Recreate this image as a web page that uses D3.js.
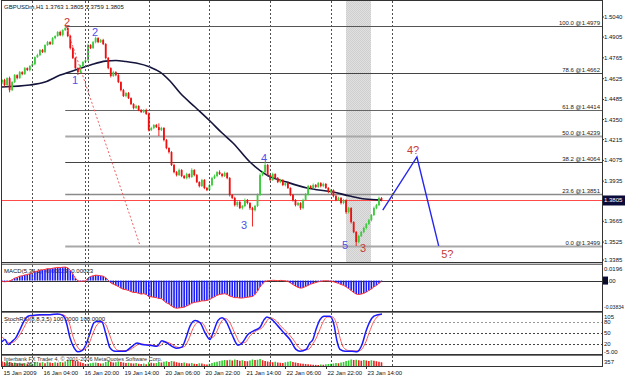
<!DOCTYPE html>
<html>
<head>
<meta charset="utf-8">
<script src="https://cdn.jsdelivr.net/npm/d3@7"></script>
<style>
  body { margin: 0; background: #fff; }
  svg { display: block; font-family: "Liberation Sans", Arial, sans-serif; }
</style>
</head>
<body>
<svg id="chart" width="625" height="377"></svg>
<script>
// ---- Data ----
const firstOpen = 1.4600;
// H1 closes, one per bar (bar 0 = 15 Jan 12:00)
const closes = [
  1.4616,1.4582,1.4629,1.4548,1.4602,1.4649,1.4629,1.4669,1.4656,1.4696,
  1.4683,1.4710,1.4723,1.4770,1.4784,1.4818,1.4804,1.4851,1.4871,1.4858,
  1.4898,1.4912,1.4939,1.4918,1.4952,1.4966,1.4912,1.4831,1.4764,1.4696,
  1.4669,1.4710,1.4737,1.4750,1.4851,1.4831,1.4871,1.4898,1.4871,1.4885,
  1.4858,1.4764,1.4696,1.4643,1.4669,1.4649,1.4602,1.4548,1.4508,1.4528,
  1.4494,1.4454,1.4427,1.4441,1.4414,1.4400,1.4414,1.4387,1.4279,1.4293,
  1.4313,1.4299,1.4279,1.4293,1.4212,1.4158,1.4131,1.4044,1.3996,1.3976,
  1.4010,1.3970,1.3956,1.3983,1.3963,1.4010,1.3976,1.3929,1.3902,1.3943,
  1.3889,1.3875,1.3909,1.3956,1.3970,1.3996,1.3983,1.3970,1.3990,1.3956,
  1.3842,1.3822,1.3774,1.3795,1.3754,1.3768,1.3808,1.3788,1.3754,1.3740,
  1.3768,1.3842,1.3976,1.3996,1.4044,1.3976,1.3943,1.3983,1.3956,1.3929,
  1.3943,1.3909,1.3922,1.3889,1.3842,1.3808,1.3774,1.3788,1.3754,1.3808,
  1.3848,1.3902,1.3889,1.3909,1.3896,1.3922,1.3902,1.3916,1.3889,1.3862,
  1.3875,1.3835,1.3808,1.3822,1.3788,1.3808,1.3727,1.3754,1.3660,1.3593,
  1.3525,1.3566,1.3593,1.3620,1.3647,1.3673,1.3707,1.3754,1.3774,1.3822,1.3805
];
// wick lengths in pips above the body / below the body
const wickHi = [
  6,8,5,10,6,7,5,8,6,7, 5,6,8,5,9,6,7,5,8,6, 7,5,6,9,5,13,6,8,7,6,
  5,8,6,7,9,6,8,10,6,7, 8,6,7,5,9,6,7,5,8,6, 7,5,6,8,5,7,6,9,10,8,
  6,7,25,8,6,7,5,6,8,7, 10,6,7,9,5,12,6,7,5,8, 6,7,9,8,10,6,12,7,9,6,
  7,6,8,5,9,6,10,7,6,8, 7,10,12,8,20,7,6,9,5,7, 8,6,7,9,5,7,6,8,6,9,
  7,8,6,10,7,8,6,9,7,6, 8,5,7,9,6,8,5,7,6,5, 6,8,7,9,6,8,7,10,8,9,6
];
const wickLo = [
  12,10,8,15,7,6,9,5,8,6, 7,9,6,8,5,7,6,8,5,7, 6,8,5,7,9,6,8,10,7,8,
  19,7,6,8,9,7,6,8,7,6, 7,9,8,10,6,8,7,9,6,8, 6,7,9,5,8,6,7,6,9,7,
  8,6,40,7,9,8,10,7,8,9, 6,8,7,9,10,6,8,7,9,6, 8,7,6,9,7,8,6,9,7,8,
  10,8,9,12,7,10,8,9,12,110, 9,7,6,8,7,9,8,6,10,7, 8,7,9,6,8,10,9,7,12,8,
  7,9,6,8,7,6,9,8,6,8, 7,9,8,6,10,8,12,9,10,8, 26,9,7,8,10,7,9,6,8,7,6
];
// moving average: [bar, price]
const maPts = [
  [0,1.4569],[11,1.4582],[17,1.4602],[23,1.4649],[29,1.4683],[35,1.4717],[41,1.4743],
  [45,1.4747],[49,1.4740],[53,1.4730],[58.5,1.4703],[62.5,1.4669],[66.4,1.4609],
  [70.4,1.4528],[76.3,1.4434],[82.2,1.4340],[87,1.4259],[91.3,1.4192],[98,1.4064],
  [104.7,1.3976],[112.6,1.3929],[120.6,1.3889],[130.8,1.3862],[137.5,1.3835],
  [143.5,1.3815],[149.8,1.3808]
];
// Fibonacci retracement
const fibLevels = ["100.0","78.6","61.8","50.0","38.2","23.6","0.0"];
const fibPrices = [1.4979,1.4662,1.4414,1.4239,1.4064,1.3851,1.3499];
const fibStartBar = 25;
const lastPrice = 1.3805;
// Elliott wave labels
const waveText  = ["2","2","1","3","4","5","3","4?","5?"];
const waveBar   = [25.7,36.8,28.9,95.7,103.6,135.6,142.7,162.5,176];
const wavePrice = [1.5006,1.4939,1.4616,1.3640,1.4091,1.3505,1.3485,1.4144,1.3445];
const waveDegree = ["major","minor","minor","minor","minor","minor","major","major","major"];
// dashed trend line and projected path
const diagBar = [25.3, 54.5], diagPrice = [1.4979, 1.3505];
const projBar = [150.5, 164, 172.6], projPrice = [1.3740, 1.4098, 1.3499];
// highlighted session
const bandBars = [136, 145.8];
// day separators and time labels
const separatorBars = [12, 33, 34, 58, 82, 106, 130, 154];
const timeBars   = [0, 16, 32, 48, 64, 80, 96, 112, 128, 144];
const timeLabels = ["15 Jan 2009","16 Jan 04:00","16 Jan 20:00","19 Jan 14:00","20 Jan 06:00",
                    "20 Jan 22:00","21 Jan 14:00","22 Jan 06:00","22 Jan 22:00","23 Jan 14:00"];
const priceTicks = [1.5040,1.4905,1.4765,1.4625,1.4485,1.4350,1.4215,1.4075,1.3935,1.3665,1.3525,1.3385];
// MACD(5,34,1) per bar
const macd = [
  -0.0010,-0.0015,-0.0012,-0.0008,0.0010,0.0030,0.0040,0.0055,0.0060,0.0070,
  0.0075,0.0085,0.0095,0.0110,0.0120,0.0130,0.0135,0.0140,0.0150,0.0148,
  0.0155,0.0160,0.0165,0.0163,0.0168,0.0170,0.0160,0.0130,0.0080,0.0030,
  -0.0005,-0.0010,-0.0008,-0.0005,0.0030,0.0050,0.0060,0.0068,0.0065,0.0060,
  0.0055,0.0035,0.0005,-0.0030,-0.0045,-0.0060,-0.0075,-0.0095,-0.0110,-0.0115,
  -0.0125,-0.0140,-0.0150,-0.0150,-0.0160,-0.0170,-0.0165,-0.0175,-0.0200,-0.0205,
  -0.0210,-0.0215,-0.0225,-0.0228,-0.0255,-0.0280,-0.0295,-0.0320,-0.0340,-0.0348,
  -0.0345,-0.0340,-0.0335,-0.0320,-0.0305,-0.0285,-0.0275,-0.0270,-0.0265,-0.0255,
  -0.0255,-0.0250,-0.0240,-0.0220,-0.0205,-0.0185,-0.0175,-0.0170,-0.0165,-0.0175,
  -0.0195,-0.0205,-0.0215,-0.0215,-0.0220,-0.0220,-0.0215,-0.0210,-0.0205,-0.0200,
  -0.0175,-0.0130,-0.0080,-0.0040,-0.0010,-0.0005,0.0000,0.0003,0.0002,-0.0003,
  0.0002,0.0000,-0.0005,-0.0010,-0.0030,-0.0050,-0.0070,-0.0085,-0.0095,-0.0090,
  -0.0075,-0.0060,-0.0045,-0.0035,-0.0025,-0.0015,-0.0010,-0.0005,-0.0002,-0.0005,
  -0.0008,-0.0015,-0.0025,-0.0035,-0.0050,-0.0060,-0.0080,-0.0100,-0.0125,-0.0150,
  -0.0170,-0.0175,-0.0170,-0.0160,-0.0145,-0.0125,-0.0105,-0.0080,-0.0060,-0.0035,
  -0.0010
];
// StochRSI main and signal: [bar, value]
const stochMainPts = [
  [0,27],[1.2,33],[2.4,20],[4,28],[5.5,38],[7.1,59],[8.7,81],[10.3,94],[11.9,96],[15,98],[19,98],
  [22,100],[24,96],[25.3,81],[26.9,37],[28.5,11],[30,1],[31.6,4],[33.2,20],[34.8,50],[36.4,77],
  [38,81],[39.5,79],[41.1,46],[42.7,11],[44.7,2],[48.6,2],[51.4,15],[53.4,24],[55.3,20],[58.5,18],
  [61.3,15],[63.2,30],[65.2,24],[67.2,15],[68.8,10],[71.1,13],[72.7,37],[74.3,68],[76.3,83],
  [78.3,77],[80.3,50],[82.2,33],[83.4,50],[85.4,83],[87,90],[88.5,81],[90.9,46],[93.3,18],
  [94.9,24],[97.2,46],[99.6,56],[102,65],[103.6,85],[104.7,92],[106.7,85],[109.1,68],[111.5,50],
  [113.8,33],[116.2,7],[117.8,2],[120.2,7],[121.7,24],[122.9,33],[124.1,59],[125.7,85],[127.3,94],
  [129.6,94],[131.2,72],[132.4,29],[133.6,7],[135.6,2],[138.3,2],[140.3,1],[142.3,20],[143.9,55],
  [145.5,81],[147,94],[148.6,98],[150.2,100]
];
const stochSignalPts = [
  [0,40],[1.5,30],[3,24],[4.5,26],[6,35],[7.7,52],[9.3,72],[11,88],[12.6,95],[16,97],[20,98],
  [23,99],[25,95],[26.5,78],[28,42],[29.6,16],[31.2,5],[32.8,8],[34.4,22],[36,50],[37.6,72],
  [39.5,79],[41,72],[42.7,42],[44.3,15],[46.2,4],[49.5,4],[52.4,14],[54.5,22],[56.5,20],[59.5,18],
  [62.3,16],[64.2,27],[66.2,24],[68.2,16],[70,12],[72,14],[73.7,32],[75.5,62],[77.5,78],
  [79.3,75],[81.3,52],[83.2,38],[84.6,50],[86.5,78],[88.2,88],[89.8,80],[92,50],[94.3,24],
  [96,25],[98.2,44],[100.6,56],[103,65],[104.7,82],[106,90],[108,84],[110.2,68],[112.6,52],
  [115,34],[117.3,12],[119,5],[121.3,8],[122.9,22],[124,34],[125.4,55],[127,80],[128.5,92],
  [130.6,92],[132.4,70],[133.7,35],[135,12],[137,4],[139.5,3],[141.5,4],[143.5,22],[145.2,52],
  [146.8,78],[148.3,92],[150.2,99]
];
const stochLevels = [80, 50, 20];
const stochTicks = ["105","80","50","20","-5.00"];
const stochTickVals = [105, 80, 50, 20, -5];
// tick volumes per bar
const volumes = [
  180,150,210,160,120,140,100,130,90,110, 95,120,80,140,160,130,150,110,170,140,
  120,150,130,160,140,180,220,250,240,200, 190,150,120,80,90,110,130,140,120,100,
  110,160,190,170,140,150,180,160,140,120, 130,110,100,120,90,80,100,70,150,130,
  110,120,160,140,170,190,160,200,180,150, 130,120,140,110,100,120,90,80,110,100,
  70,60,90,120,150,170,200,220,240,230, 250,220,260,240,210,230,200,190,220,260,
  240,250,280,230,200,180,160,150,170,140, 130,120,150,170,190,160,140,120,100,90,
  80,70,60,50,45,40,60,50,70,80, 90,100,120,110,140,160,200,220,260,240,
  250,230,210,240,220,200,230,210,190,170,150
];

// ---- Layout ----
const svg = d3.select("#chart");
const left = 1, right = 602;
const panels = {
  main:  { top: 1,   bottom: 262 },
  macd:  { top: 265, bottom: 311 },
  stoch: { top: 313, bottom: 354 },
  vol:   { top: 356, bottom: 366 }
};

const x = d3.scaleLinear().domain([0, 150]).range([2, 381.5]);
const yMain = d3.scaleLinear().domain([1.3391, 1.5141]).range([262, 2]);
const yMacd = d3.scaleLinear().domain([-0.03834, 0.0196]).range([311, 265]);
const yStoch = d3.scaleLinear().domain([-5, 105]).range([354, 312]);
const yVol = d3.scaleLinear().domain([0, 360]).range([366, 357]);

svg.append("rect").attr("width", 625).attr("height", 377).attr("fill", "#fff");

const defs = svg.append("defs");
const pat = defs.append("pattern").attr("id", "stipple")
  .attr("width", 2).attr("height", 2).attr("patternUnits", "userSpaceOnUse");
pat.append("rect").attr("width", 2).attr("height", 2).attr("fill", "#e0e0e0");
pat.append("rect").attr("width", 1).attr("height", 1).attr("fill", "#cfcfcf");
pat.append("rect").attr("x", 1).attr("y", 1).attr("width", 1).attr("height", 1).attr("fill", "#cfcfcf");

Object.entries(panels).forEach(([k, p]) => {
  defs.append("clipPath").attr("id", "clip-" + k)
    .append("rect").attr("x", left).attr("y", p.top)
    .attr("width", right - left).attr("height", p.bottom - p.top);
});

const gMain = svg.append("g").attr("clip-path", "url(#clip-main)");
const gMacd = svg.append("g").attr("clip-path", "url(#clip-macd)");
const gStoch = svg.append("g").attr("clip-path", "url(#clip-stoch)");
const gVol = svg.append("g").attr("clip-path", "url(#clip-vol)");

// highlighted band
gMain.append("rect")
  .attr("x", Math.round(x(bandBars[0]))).attr("y", panels.main.top)
  .attr("width", Math.round(x(bandBars[1]) - x(bandBars[0])))
  .attr("height", panels.main.bottom - panels.main.top)
  .attr("fill", "url(#stipple)").attr("shape-rendering", "crispEdges");

// day separators in every panel
Object.values(panels).forEach(p => {
  svg.selectAll(null).data(separatorBars).enter().append("line")
    .attr("x1", d => Math.round(x(d)) + 0.5).attr("x2", d => Math.round(x(d)) + 0.5)
    .attr("y1", p.top).attr("y2", p.bottom)
    .attr("stroke", "#505050").attr("stroke-dasharray", "2,2");
});

// fibonacci lines
const fibStyle = {
  "100.0": { c: "#555", w: 1 }, "78.6": { c: "#444", w: 1 }, "61.8": { c: "#666", w: 1 },
  "50.0": { c: "#a8a8a8", w: 2 }, "38.2": { c: "#444", w: 1 }, "23.6": { c: "#8a8a8a", w: 1.5 },
  "0.0": { c: "#a8a8a8", w: 2 }
};
fibLevels.forEach((lvl, k) => {
  const yy = Math.round(yMain(fibPrices[k])) + 0.5;
  gMain.append("line").attr("x1", x(fibStartBar)).attr("x2", right)
    .attr("y1", yy).attr("y2", yy)
    .attr("stroke", fibStyle[lvl].c).attr("stroke-width", fibStyle[lvl].w);
  gMain.append("text").attr("x", 600).attr("y", yy - 2)
    .attr("text-anchor", "end").style("font-size", "6px").attr("fill", "#222")
    .text(`${lvl} @${fibPrices[k].toFixed(4)}`);
});

// last price line
gMain.append("line").attr("x1", left).attr("x2", right)
  .attr("y1", Math.round(yMain(lastPrice)) + 0.5).attr("y2", Math.round(yMain(lastPrice)) + 0.5)
  .attr("stroke", "#ff4a4a");

// moving average
gMain.append("path").datum(maPts)
  .attr("fill", "none").attr("stroke", "#14143c").attr("stroke-width", 1.6)
  .attr("d", d3.line().x(d => x(d[0])).y(d => yMain(d[1])).curve(d3.curveMonotoneX));

// candles
const bars = closes.map((c, i) => {
  const o = i === 0 ? firstOpen : closes[i - 1];
  return { i, o, c, h: Math.max(o, c) + wickHi[i] / 1e4, l: Math.min(o, c) - wickLo[i] / 1e4 };
});
const upCol = "#3ccb3c", downCol = "#ee1010";
gMain.selectAll("line.wick").data(bars).enter().append("line")
  .attr("class", "wick")
  .attr("x1", d => x(d.i)).attr("x2", d => x(d.i))
  .attr("y1", d => yMain(d.h)).attr("y2", d => yMain(d.l))
  .attr("stroke", d => d.c >= d.o ? upCol : downCol).attr("stroke-width", 0.9);
gMain.selectAll("rect.body").data(bars).enter().append("rect")
  .attr("class", "body")
  .attr("x", d => x(d.i) - 0.9).attr("width", 1.8)
  .attr("y", d => yMain(Math.max(d.o, d.c)))
  .attr("height", d => Math.max(1, Math.abs(yMain(d.o) - yMain(d.c))))
  .attr("fill", d => d.c >= d.o ? upCol : downCol);

// dashed trend line
gMain.append("line")
  .attr("x1", x(diagBar[0])).attr("y1", yMain(diagPrice[0]))
  .attr("x2", x(diagBar[1])).attr("y2", yMain(diagPrice[1]))
  .attr("stroke", "#f06060").attr("stroke-dasharray", "2,2");

// projected path
gMain.append("path").datum(projBar.map((b, k) => [b, projPrice[k]]))
  .attr("fill", "none").attr("stroke", "#2626f0").attr("stroke-width", 1.4)
  .attr("d", d3.line().x(d => x(d[0])).y(d => yMain(d[1])));

// wave labels
const waveCol = { major: "#c83a34", minor: "#5050e6" };
gMain.selectAll("text.wave").data(waveText).enter().append("text")
  .attr("class", "wave")
  .attr("x", (d, k) => x(waveBar[k])).attr("y", (d, k) => yMain(wavePrice[k]))
  .attr("text-anchor", "middle").attr("dominant-baseline", "central")
  .style("font-size", "11px").attr("fill", (d, k) => waveCol[waveDegree[k]])
  .text(d => d);

// title
svg.append("text").attr("x", 4).attr("y", 9).style("font-size", "6px").attr("fill", "#111")
  .text("GBPUSDm,H1  1.3763 1.3805 1.3759 1.3805");

// ---- MACD ----
gMacd.append("text").attr("x", 4).attr("y", 273).style("font-size", "6px").attr("fill", "#111")
  .text("MACD(5,34,1) -0.00023 -0.00023");
gMacd.append("line").attr("x1", left).attr("x2", right)
  .attr("y1", Math.round(yMacd(0)) + 0.5).attr("y2", Math.round(yMacd(0)) + 0.5)
  .attr("stroke", "#333");
gMacd.selectAll("rect").data(macd).enter().append("rect")
  .attr("x", (d, i) => x(i) - 0.8).attr("width", 1.6)
  .attr("y", d => Math.min(yMacd(d), yMacd(0)))
  .attr("height", d => Math.abs(yMacd(d) - yMacd(0)))
  .attr("fill", "#1a1aff");
gMacd.append("path").datum(macd)
  .attr("fill", "none").attr("stroke", "#ff3030").attr("stroke-width", 1)
  .attr("d", d3.line().x((d, i) => x(i)).y(d => yMacd(d)));

// ---- StochRSI ----
stochLevels.forEach(v => {
  gStoch.append("line").attr("x1", left).attr("x2", right)
    .attr("y1", Math.round(yStoch(v)) + 0.5).attr("y2", Math.round(yStoch(v)) + 0.5)
    .attr("stroke", v === 80 ? "#999" : "#444").attr("stroke-dasharray", "2,2");
});
gStoch.append("text").attr("x", 4).attr("y", 321).style("font-size", "6px").attr("fill", "#111")
  .text("StochRSI(8,8,3,5) 100.0000 100.0000");
const sLine = d3.line().x(d => x(d[0])).y(d => yStoch(d[1])).curve(d3.curveMonotoneX);
gStoch.append("path").datum(stochSignalPts)
  .attr("fill", "none").attr("stroke", "#ff5a5a").attr("stroke-width", 1).attr("d", sLine);
gStoch.append("path").datum(stochMainPts)
  .attr("fill", "none").attr("stroke", "#1a1aff").attr("stroke-width", 1.5).attr("d", sLine);

// ---- Volumes ----
gVol.selectAll("rect").data(volumes).enter().append("rect")
  .attr("x", (d, i) => x(i) - 0.8).attr("width", 1.6)
  .attr("y", d => yVol(d)).attr("height", d => yVol(0) - yVol(d))
  .attr("fill", (d, i) => i > 0 && d > volumes[i - 1] ? "#2ecc2e" : "#ee2020");
gVol.append("text").attr("x", 4).attr("y", 361).style("font-size", "5.5px").attr("fill", "#333")
  .text("Interbank FX Trader 4, © 2001-2006 MetaQuotes Software Corp.");
gVol.append("text").attr("x", 4).attr("y", 366).style("font-size", "5.5px").attr("fill", "#333")
  .text("Volumes 357");

// ---- Frame and separators ----
[[262, 265], [311, 313], [354, 356]].forEach(([a, b]) => {
  svg.append("rect").attr("x", left).attr("y", a).attr("width", right - left).attr("height", b - a)
    .attr("fill", "#c8c8c8");
  svg.append("line").attr("x1", left).attr("x2", right).attr("y1", a + 0.5).attr("y2", a + 0.5).attr("stroke", "#333");
  svg.append("line").attr("x1", left).attr("x2", right).attr("y1", b - 0.5).attr("y2", b - 0.5).attr("stroke", "#777");
});
svg.append("rect").attr("x", left + 0.5).attr("y", 0.5)
  .attr("width", right - left).attr("height", 366)
  .attr("fill", "none").attr("stroke", "#333");

// ---- Right axis ----
const axisText = (y, t, size) => svg.append("text").attr("x", 604).attr("y", y)
  .attr("dominant-baseline", "central").style("font-size", (size || 6) + "px").attr("fill", "#111").text(t);
priceTicks.forEach(p => {
  const yy = Math.min(yMain(p), 260);
  svg.append("line").attr("x1", right).attr("x2", right + 2).attr("y1", yy).attr("y2", yy).attr("stroke", "#333");
  axisText(yy, p.toFixed(4));
});
svg.append("rect").attr("x", 603).attr("y", yMain(lastPrice) - 5).attr("width", 22).attr("height", 10)
  .attr("fill", "#0b0b3a");
svg.append("text").attr("x", 604).attr("y", yMain(lastPrice))
  .attr("dominant-baseline", "central").style("font-size", "6px").attr("fill", "#fff")
  .text(lastPrice.toFixed(4));

axisText(269, "0.0196");
svg.append("rect").attr("x", 603).attr("y", yMacd(0) - 4).attr("width", 5).attr("height", 8).attr("fill", "#0b0b3a");
axisText(yMacd(0), "0.00");
axisText(307, "-0.03834", 5);

stochTickVals.forEach((v, k) => {
  const yy = Math.max(317, Math.min(352, yStoch(v)));
  axisText(yy, stochTicks[k]);
});
axisText(362, "357");

// ---- Time axis ----
timeBars.forEach((b, k) => {
  const xx = Math.round(x(b)) + 0.5;
  svg.append("line").attr("x1", xx).attr("x2", xx).attr("y1", 366).attr("y2", 369).attr("stroke", "#333");
  svg.append("text").attr("x", xx + 1).attr("y", 375).style("font-size", "6px").attr("fill", "#111")
    .text(timeLabels[k]);
});
</script>
</body>
</html>
